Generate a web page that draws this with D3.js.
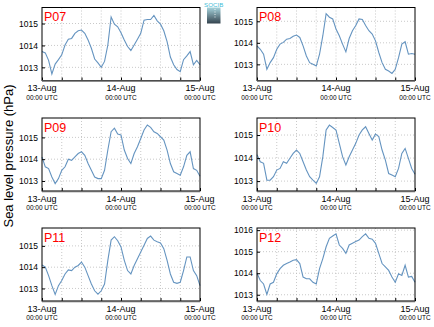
<!DOCTYPE html>
<html>
<head>
<meta charset="utf-8">
<script src="https://cdn.jsdelivr.net/npm/d3@7"></script>
<style>
  body { margin: 0; background: #fff; }
  text { font-family: "Liberation Sans", Arial, sans-serif; }
</style>
</head>
<body>
<svg width="434" height="327"></svg>
<script>
// stations, hourly values from 13-Aug 00:00 UTC to 15-Aug 00:00 UTC
const stations = ["P07", "P08", "P09", "P10", "P11", "P12"];

const p07 = [1013.72, 1013.66, 1013.32, 1012.7, 1013.15, 1013.35, 1013.57, 1014.02, 1014.28, 1014.32,
  1014.55, 1014.67, 1014.7, 1014.55, 1014.25, 1013.87, 1013.38, 1013.2, 1013.0, 1013.27,
  1014.02, 1015.3, 1014.97, 1014.85, 1014.58, 1014.25, 1013.95, 1013.77, 1014.02, 1014.28,
  1014.55, 1015.15, 1015.18, 1015.18, 1015.37, 1015.12, 1014.97, 1014.67, 1014.17, 1013.47,
  1013.12, 1012.9, 1012.8, 1013.35, 1013.52, 1013.72, 1013.12, 1013.32, 1013.12];
const p08 = [1013.86, 1013.7, 1013.47, 1012.77, 1013.08, 1013.31, 1013.7, 1013.94, 1014.02, 1014.17,
  1014.2, 1014.3, 1014.36, 1014.25, 1013.86, 1013.39, 1013.08, 1013.0, 1012.92, 1013.47,
  1014.33, 1015.35, 1015.19, 1015.11, 1014.64, 1014.33, 1013.94, 1013.58, 1014.2, 1014.56,
  1014.8, 1015.11, 1015.08, 1014.8, 1014.56, 1014.41, 1014.09, 1013.55, 1013.08, 1012.77,
  1012.69, 1012.58, 1012.77, 1013.31, 1013.94, 1014.05, 1013.47, 1013.5, 1013.47];
const p09 = [1014.1, 1013.65, 1013.57, 1013.18, 1012.88, 1013.11, 1013.49, 1013.65, 1014.0, 1013.95,
  1014.11, 1014.26, 1014.34, 1014.18, 1013.8, 1013.49, 1013.18, 1013.11, 1013.11, 1013.49,
  1014.42, 1015.26, 1015.42, 1015.15, 1015.11, 1014.42, 1014.03, 1013.8, 1014.26, 1014.57,
  1014.95, 1015.34, 1015.57, 1015.46, 1015.26, 1015.18, 1015.03, 1014.88, 1014.42, 1013.8,
  1013.42, 1013.34, 1013.26, 1013.65, 1014.18, 1014.34, 1013.57, 1013.49, 1013.22];
const p10 = [1014.15, 1013.84, 1013.77, 1013.04, 1013.04, 1013.19, 1013.48, 1013.55, 1013.84, 1013.77,
  1013.99, 1014.2, 1014.35, 1014.2, 1013.84, 1013.48, 1013.19, 1013.04, 1012.9, 1013.19,
  1014.06, 1015.22, 1015.43, 1015.33, 1015.22, 1014.64, 1014.06, 1013.7, 1014.06, 1014.35,
  1014.64, 1015.0, 1015.22, 1015.36, 1015.07, 1014.78, 1015.04, 1014.93, 1014.35, 1013.91,
  1013.33, 1013.26, 1013.19, 1013.55, 1014.2, 1014.42, 1013.99, 1013.55, 1013.3];
const p11 = [1014.1, 1014.0, 1013.6, 1013.13, 1012.72, 1013.13, 1013.37, 1013.68, 1013.87, 1013.84,
  1014.0, 1014.08, 1014.24, 1014.0, 1013.6, 1013.21, 1012.89, 1012.73, 1012.89, 1013.21,
  1014.32, 1015.27, 1015.43, 1015.24, 1014.95, 1014.32, 1013.84, 1013.68, 1014.08, 1014.4,
  1014.71, 1015.03, 1015.35, 1015.46, 1015.27, 1015.19, 1015.14, 1014.87, 1014.32, 1013.68,
  1013.29, 1013.24, 1013.29, 1013.84, 1014.48, 1014.48, 1013.84, 1013.6, 1013.13];
const p12 = [1014.0, 1013.66, 1013.5, 1013.02, 1013.5, 1013.58, 1013.97, 1014.21, 1014.37, 1014.45,
  1014.52, 1014.6, 1014.63, 1014.45, 1013.82, 1013.74, 1013.74, 1013.58, 1013.5, 1014.21,
  1014.68, 1015.23, 1015.62, 1015.73, 1015.83, 1015.31, 1015.15, 1014.92, 1015.31, 1015.39,
  1015.47, 1015.54, 1015.7, 1015.83, 1015.62, 1015.58, 1015.39, 1014.92, 1014.45, 1014.29,
  1014.13, 1013.82, 1013.58, 1013.97, 1013.9, 1014.37, 1013.82, 1013.85, 1013.58];
const series = [p07, p08, p09, p10, p11, p12];

// y ranges shown in each panel
const yDomains = [
  [1012.4, 1015.73],
  [1012.25, 1015.64],
  [1012.54, 1015.89],
  [1012.57, 1015.74],
  [1012.41, 1015.84],
  [1012.71, 1016.1]
];
const yTicks = [
  [1013, 1014, 1015],
  [1013, 1014, 1015],
  [1013, 1014, 1015],
  [1013, 1014, 1015],
  [1013, 1014, 1015],
  [1013, 1014, 1015, 1016]
];

const startTime = Date.UTC(2013, 7, 13, 0, 0);
const endTime = Date.UTC(2013, 7, 15, 0, 0);
const HOUR = 3600 * 1000;

export_chart();

function export_chart() {
  const svg = d3.select("svg");
  const colLeft = [42, 257];
  const rowTop = [7.5, 118, 228];
  const w = 158;
  const h = 73;

  stations.forEach((name, i) => {
    const x0 = colLeft[i % 2];
    const y0 = rowTop[Math.floor(i / 2)];
    drawPanel(svg, name, series[i], yDomains[i], yTicks[i], x0, y0, w, h);
  });

  // y axis title
  svg
    .append("text")
    .attr("transform", "translate(13, 156) rotate(-90)")
    .attr("text-anchor", "middle")
    .attr("font-size", 13)
    .attr("fill", "#000")
    .text("Sea level pressure (hPa)");

  // small logo
  const defs = svg.append("defs");
  const grad = defs
    .append("linearGradient")
    .attr("id", "logoGrad")
    .attr("x1", 0)
    .attr("y1", 0)
    .attr("x2", 0)
    .attr("y2", 1);
  grad.append("stop").attr("offset", "0%").attr("stop-color", "#a6d3dc");
  grad.append("stop").attr("offset", "100%").attr("stop-color", "#34434e");
  svg
    .append("rect")
    .attr("x", 207)
    .attr("y", 7.5)
    .attr("width", 13.5)
    .attr("height", 16)
    .attr("fill", "url(#logoGrad)");
  svg
    .append("line")
    .attr("x1", 215)
    .attr("x2", 215)
    .attr("y1", 9)
    .attr("y2", 18)
    .attr("stroke", "#fff")
    .attr("stroke-dasharray", "1,1.5")
    .attr("stroke-width", 0.8);
  svg
    .append("text")
    .attr("x", 213.7)
    .attr("y", 7.3)
    .attr("text-anchor", "middle")
    .attr("font-size", 6.2)
    .attr("fill", "#3fbcd6")
    .text("SOCIB");
}

function drawPanel(svg, name, values, yDomain, ticks, x0, y0, w, h) {
  const data = values.map((v, k) => ({ time: new Date(startTime + k * HOUR), value: v }));

  const xScale = d3
    .scaleUtc()
    .domain([new Date(startTime), new Date(endTime)])
    .range([x0, x0 + w]);
  const yScale = d3.scaleLinear().domain(yDomain).range([y0 + h, y0]);

  const g = svg.append("g");
  const gridTimes = d3.range(startTime, endTime + 1, 6 * HOUR).map(t => new Date(t));

  // dotted grid
  g.selectAll(".vgrid")
    .data(gridTimes.slice(1, -1))
    .enter()
    .append("line")
    .attr("x1", d => xScale(d))
    .attr("x2", d => xScale(d))
    .attr("y1", y0)
    .attr("y2", y0 + h)
    .attr("stroke", "#bbb")
    .attr("stroke-width", 0.8)
    .attr("stroke-dasharray", "1,2");
  g.selectAll(".hgrid")
    .data(ticks)
    .enter()
    .append("line")
    .attr("x1", x0)
    .attr("x2", x0 + w)
    .attr("y1", d => yScale(d))
    .attr("y2", d => yScale(d))
    .attr("stroke", "#bbb")
    .attr("stroke-width", 0.8)
    .attr("stroke-dasharray", "1,2");

  // line
  const valueline = d3
    .line()
    .x(d => xScale(d.time))
    .y(d => yScale(d.value));
  g.append("path")
    .attr("d", valueline(data))
    .attr("fill", "none")
    .attr("stroke", "#6594c0")
    .attr("stroke-width", 1.1);

  // axes with inward ticks
  const yAxis = d3
    .axisLeft(yScale)
    .tickValues(ticks)
    .tickSizeInner(-3)
    .tickSizeOuter(0)
    .tickPadding(4)
    .tickFormat(d3.format("d"));
  const ya = g
    .append("g")
    .attr("transform", `translate(${x0}, 0)`)
    .call(yAxis);
  ya.select(".domain").remove();
  ya.selectAll("text").attr("font-size", 8.5).attr("fill", "#000").style("font-family", "Liberation Sans, Arial, sans-serif");

  const xAxis = d3
    .axisBottom(xScale)
    .tickValues(gridTimes)
    .tickSizeInner(-3)
    .tickSizeOuter(0)
    .tickFormat("");
  const xa = g
    .append("g")
    .attr("transform", `translate(0, ${y0 + h})`)
    .call(xAxis);
  xa.select(".domain").remove();

  // frame
  g.append("rect")
    .attr("x", x0)
    .attr("y", y0)
    .attr("width", w)
    .attr("height", h)
    .attr("fill", "none")
    .attr("stroke", "#000")
    .attr("stroke-width", 1);
  g.append("line")
    .attr("x1", x0)
    .attr("x2", x0 + w)
    .attr("y1", y0 + h + 0.5)
    .attr("y2", y0 + h + 0.5)
    .attr("stroke", "#666")
    .attr("stroke-width", 1.5);

  // date labels
  const labelTimes = [startTime, startTime + 24 * HOUR, endTime].map(t => new Date(t));
  const fmt = d3.utcFormat("%d-%b");
  labelTimes.forEach(t => {
    const lx = xScale(t);
    g.append("text")
      .attr("x", lx)
      .attr("y", y0 + h + 10.5)
      .attr("text-anchor", "middle")
      .attr("font-size", 9)
      .attr("fill", "#000")
      .text(fmt(t));
    g.append("text")
      .attr("x", lx)
      .attr("y", y0 + h + 19)
      .attr("text-anchor", "middle")
      .attr("font-size", 6.5)
      .attr("fill", "#000")
      .text(d3.utcFormat("%H:%M")(t) + " UTC");
  });

  // station name
  g.append("text")
    .attr("x", x0 + 2)
    .attr("y", y0 + 13.5)
    .attr("font-size", 12.5)
    .attr("fill", "#f00")
    .text(name);
}
</script>
</body>
</html>
